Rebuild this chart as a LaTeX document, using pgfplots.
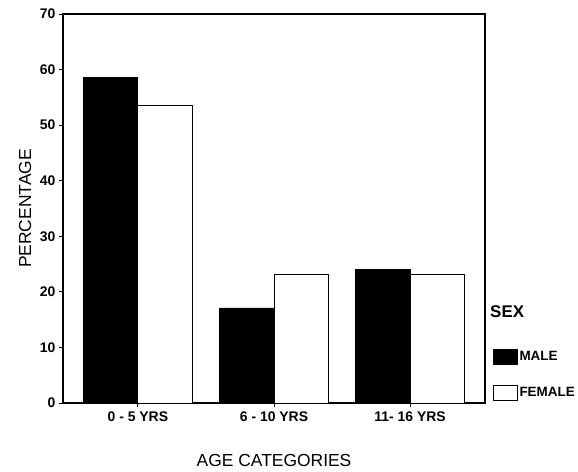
\documentclass[border=0pt]{standalone}
\usepackage{pgfplots}
\pgfplotsset{compat=1.18}
\usepackage{fontspec}
\setmainfont{Liberation Sans}

\begin{document}
\begin{tikzpicture}
    \begin{axis}[
        name=ax,
        scale only axis,
        width=422bp, height=389bp,
        xmin=-0.55, xmax=2.55,
        ymin=0, ymax=70,
        ytick={0,10,...,70},
        xtick={0,1,2},
        xticklabels={0 - 5 YRS, 6 - 10 YRS, 11- 16 YRS},
        tick align=outside,
        xtick pos=bottom, ytick pos=left,
        major tick length=4bp,
        axis line style={line width=1.1pt},
        tick style={line width=1pt, black},
        ticklabel style={font=\fontsize{14}{16}\selectfont\bfseries},
        /pgf/number format/assume math mode=true,
        xticklabel style={yshift=-1bp},
        yticklabel style={xshift=0bp},
        xlabel={AGE CATEGORIES},
        ylabel={PERCENTAGE},
        label style={font=\fontsize{17.5}{19}\selectfont},
        xlabel style={at={(axis description cs:0.5,0)}, anchor=center, yshift=-57bp},
        ylabel style={at={(axis description cs:0,0.5)}, anchor=center, yshift=38bp},
        bar width=0.4,
        legend image code/.code={\draw[#1, line width=0.8pt] (0bp,-7.5bp) rectangle (24bp,7.5bp);},
        legend style={at={(rel axis cs:1,0)}, anchor=south west, xshift=8bp, yshift=2bp,
            draw=none, fill=none, inner sep=0pt, row sep=20bp,
            font=\fontsize{13.5}{15}\selectfont\bfseries,
            nodes={inner sep=1.5bp}},
        legend cell align=left,
    ]
        \addplot[ybar, bar shift=-0.2, fill=black, draw=black, line width=0.8pt] coordinates {
            (0, 58.6)
            (1, 17.1)
            (2, 24.1)
        };
        \addlegendentry{MALE}
        \addplot[ybar, bar shift=0.2, fill=white, draw=black, line width=0.8pt] coordinates {
            (0, 53.6)
            (1, 23.2)
            (2, 23.2)
        };
        \addlegendentry{FEMALE}
    \end{axis}
    \node[anchor=west, inner sep=0pt, font=\fontsize{17}{19}\selectfont\bfseries] at ([xshift=5bp, yshift=91bp]ax.south east) {SEX};
    \pgfresetboundingbox
    \path ([xshift=-63bp, yshift=-69bp]ax.south west) rectangle ([xshift=515bp, yshift=403bp]ax.south west);
\end{tikzpicture}
\end{document}
